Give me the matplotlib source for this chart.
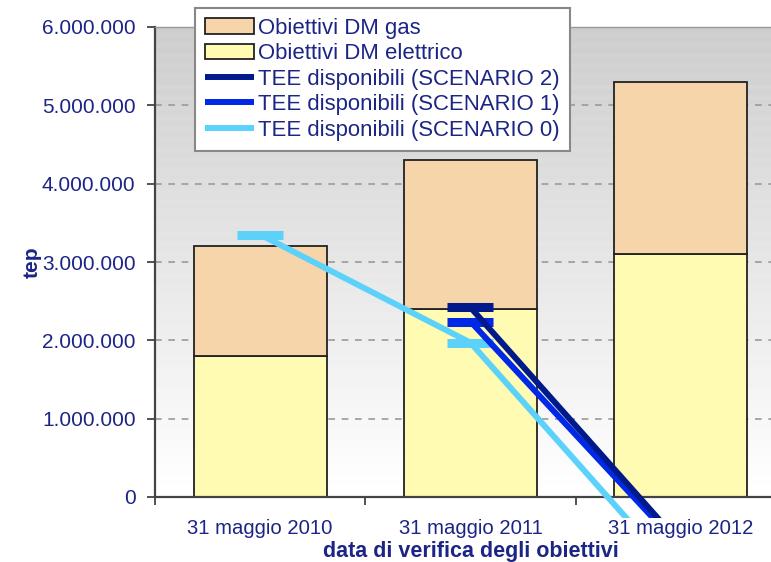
import numpy as np
import matplotlib
matplotlib.use("Agg")
import matplotlib.pyplot as plt
from matplotlib.ticker import FuncFormatter, FixedLocator
from matplotlib.patches import Rectangle

plt.rcParams['font.family'] = ['Liberation Sans', 'DejaVu Sans']

categories = ["31 maggio 2010", "31 maggio 2011", "31 maggio 2012"]
dm_elettrico = [1800000, 2400000, 3100000]
dm_gas = [1400000, 1900000, 2200000]
tee_scen2 = [np.nan, 2420000, -600000]
tee_scen1 = [np.nan, 2240000, -650000]
tee_scen0 = [3350000, 1970000, -1050000]

TXT = '#1c2585'
C_GAS = '#F7D5AA'
C_EL = '#FFFBB2'
C_S2 = '#001a8c'
C_S1 = '#0028e6'
C_S0 = '#5cd2fa'

fig = plt.figure(figsize=(7.71, 5.62), dpi=100)
ax = fig.add_axes([155/771, 65/562, 631/771, 470/562])

x = np.arange(len(categories))

# background gradient (gray at top, white at bottom) with faint stripes
rows = 90
grad = np.linspace(0.80, 1.0, rows)
stripe = np.where(np.arange(rows) % 2 == 0, 0.0, 0.015)
vals = np.clip(grad + stripe * (1 - (grad - 0.8) / 0.2), 0, 1)
img = np.repeat(vals[:, None], 2, axis=1)
ax.imshow(img, cmap='gray', vmin=0, vmax=1, extent=[0, 1, 0, 1], origin='upper',
          transform=ax.transAxes, aspect='auto', zorder=0, interpolation='bilinear')

ax.set_axisbelow(True)
ax.yaxis.grid(True, linestyle=(0, (4, 4)), color='#9a9a9a', linewidth=1.2, zorder=1)

bw = 0.633
b_el = ax.bar(x, dm_elettrico, width=bw, color=C_EL, edgecolor='#222222',
              linewidth=1.3, zorder=2, label='Obiettivi DM elettrico')
b_gas = ax.bar(x, dm_gas, width=bw, bottom=dm_elettrico, color=C_GAS,
               edgecolor='#222222', linewidth=1.3, zorder=2, label='Obiettivi DM gas')

clip_rect = Rectangle((0, -0.045), 1, 1.1, transform=ax.transAxes)

series = [(tee_scen0, C_S0, 'TEE disponibili (SCENARIO 0)', 4),
          (tee_scen1, C_S1, 'TEE disponibili (SCENARIO 1)', 5),
          (tee_scen2, C_S2, 'TEE disponibili (SCENARIO 2)', 6)]
handles_lines = {}
for data, col, lab, z in series:
    ln, = ax.plot(x, data, color=col, linewidth=4.3, zorder=z, label=lab,
                  solid_capstyle='butt')
    ln.set_clip_path(clip_rect)
    mk, = ax.plot(x, data, linestyle='none', marker='_', markersize=33,
                  markeredgewidth=6.5, color=col, zorder=z)
    mk.set_clip_path(clip_rect)
    handles_lines[lab] = ln

ax.set_xlim(-0.5, 2.5)
ax.set_ylim(0, 6000000)

ax.yaxis.set_major_locator(FixedLocator(np.arange(0, 6000001, 1000000)))
ax.yaxis.set_major_formatter(FuncFormatter(lambda v, p: f"{int(round(v)):,}".replace(",", ".")))
ax.tick_params(axis='y', direction='out', length=6, width=1.3, color='#444444',
               labelsize=15, labelcolor=TXT, pad=8)

ax.set_xticks(x)
ax.set_xticklabels(categories)
ax.set_xticks([-0.5, 0.5, 1.5, 2.5], minor=True)
ax.tick_params(axis='x', which='major', length=0, labelsize=14.6, labelcolor=TXT, pad=16)
ax.tick_params(axis='x', which='minor', direction='out', length=6, width=1.3, color='#444444')

for s in ['left', 'bottom']:
    ax.spines[s].set_color('#444444')
    ax.spines[s].set_linewidth(1.6)
ax.spines['top'].set_color('#999999')
ax.spines['top'].set_linewidth(1.0)
ax.spines['right'].set_visible(False)

ax.set_ylabel('tep', fontsize=15, fontweight='bold', color=TXT)
ax.yaxis.set_label_coords(-0.18, 0.5)
ax.set_xlabel('data di verifica degli obiettivi', fontsize=15.5, fontweight='bold',
              color=TXT, labelpad=2)

handles = [b_gas, b_el, handles_lines['TEE disponibili (SCENARIO 2)'],
           handles_lines['TEE disponibili (SCENARIO 1)'],
           handles_lines['TEE disponibili (SCENARIO 0)']]
labels = ['Obiettivi DM gas', 'Obiettivi DM elettrico', 'TEE disponibili (SCENARIO 2)',
          'TEE disponibili (SCENARIO 1)', 'TEE disponibili (SCENARIO 0)']
leg = ax.legend(handles, labels, loc='upper left', bbox_to_anchor=(40/631, 1 + 19/470),
                bbox_transform=ax.transAxes, borderaxespad=0, fontsize=15.9,
                labelcolor=TXT, frameon=True, fancybox=False, framealpha=1,
                edgecolor='#888888', handlelength=2.2, handletextpad=0.2,
                labelspacing=0.2, borderpad=0.45)
leg.get_frame().set_linewidth(1.5)
leg.set_zorder(10)

fig.savefig('out.png', dpi=100)
